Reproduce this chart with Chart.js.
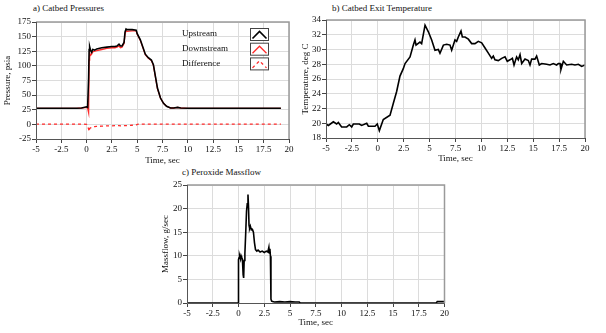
<!DOCTYPE html>
<html>
<head>
<meta charset="utf-8">
<script src="https://cdn.jsdelivr.net/npm/chart.js@4.4.1/dist/chart.umd.min.js"></script>
<style>
  body { margin: 0; background: #fff; width: 606px; height: 333px; overflow: hidden; position: relative; }
  canvas { position: absolute; }
  .ttl { position: absolute; font: 9px "Liberation Serif", serif; color: #111; white-space: nowrap; }
</style>
</head>
<body>
<div class="ttl" style="left:33px;top:3px">a) Catbed Pressures</div>
<div class="ttl" style="left:332px;top:3px">b) Catbed Exit Temperature</div>
<div class="ttl" style="left:182px;top:167px">c) Peroxide Massflow</div>
<canvas id="chartA" width="300" height="170" style="left:0;top:0"></canvas>
<canvas id="chartB" width="306" height="170" style="left:300px;top:0"></canvas>
<canvas id="chartC" width="300" height="168" style="left:150px;top:165px"></canvas>
<script>
// --- a) pressures, psia ---
const pressTime = [-5, -1, -0.5, 0, 0.1, 0.2, 0.25, 0.3, 0.4, 0.5, 0.6, 0.8, 1.0, 1.5, 2.0, 2.5, 2.8, 3.0, 3.2, 3.35, 3.5, 3.7, 3.8, 3.9, 4.0, 4.5, 4.9, 5.0, 5.3, 5.6, 5.8, 6.1, 6.4, 6.6, 6.8, 7.0, 7.3, 7.6, 7.9, 8.3, 8.6, 9.0, 9.3, 10, 19.2];
const upstream = [27.5, 27.5, 28, 30, 29, 80, 128, 133, 126, 123, 128, 127, 129, 131, 132, 133, 133, 134, 137, 134, 134, 140, 158, 163, 162, 162, 161, 155, 145, 130, 120, 114, 110, 102, 82, 62, 45, 36, 31, 28, 28, 29, 28, 27.5, 27.5];
const downstream = [27.5, 27.5, 28, 29, 28, 20, 110, 122, 118, 120, 124, 125, 126, 128, 130, 131, 131, 132, 134, 131, 132, 138, 155, 160, 159, 160, 160, 154, 144, 129, 119, 113, 109, 101, 81, 61, 45, 36, 31, 28, 28, 29, 28, 27.5, 27.5];
const difference = [0.5, 0.5, 0.5, 0, -3, -8, -12, -7, -6, -5, -4, -4, -3.5, -3, -2.5, -2.5, -2, -2, -2, -2.5, -2, -2, -2, -2, -2, -1.5, -1, 0, 0.5, 0.5, 0.5, 0.5, 0.5, 0.5, 0.5, 0.5, 0.5, 0.5, 0.5, 0.5, 0.5, 0.5, 0.5, 0.5, 0.5];
const pressLabels = ['Upstream', 'Downstream', 'Difference'];

// --- b) exit temperature, deg C ---
const tempTime = [-5, -4.77, -4.29, -3.97, -3.81, -3.49, -3.0, -2.75, -2.52, -2.36, -1.78, -1.56, -1.07, -0.91, -0.27, -0.05, 0.15, 0.53, 1.18, 1.5, 1.82, 2.14, 2.46, 2.63, 3.11, 3.43, 3.59, 3.69, 4.07, 4.23, 4.56, 4.88, 5.2, 5.52, 5.84, 6.0, 6.33, 6.65, 6.97, 7.13, 7.45, 7.61, 7.77, 8.03, 8.16, 8.42, 8.74, 9.06, 9.38, 9.7, 10.03, 10.35, 10.67, 10.99, 11.15, 11.31, 11.63, 11.96, 12.28, 12.5, 12.76, 12.99, 13.15, 13.4, 13.56, 13.73, 13.89, 14.21, 14.53, 14.69, 14.85, 15.17, 15.33, 15.59, 15.82, 16.3, 16.62, 16.94, 17.26, 17.43, 17.59, 17.68, 17.91, 18.23, 18.71, 19.03, 19.36, 19.68, 20];
const tempVals = [19.9, 19.7, 20.2, 19.9, 20.1, 19.5, 19.5, 19.8, 19.5, 19.9, 19.9, 19.7, 20.0, 19.6, 19.6, 19.9, 19.0, 20.5, 21.1, 22.7, 24.3, 26.4, 27.4, 28.1, 29.0, 30.6, 31.3, 30.6, 31.0, 30.8, 33.3, 32.4, 31.3, 29.9, 30.0, 29.5, 30.6, 30.7, 30.6, 29.9, 31.3, 31.1, 31.7, 32.5, 31.7, 31.7, 31.4, 30.8, 30.8, 31.1, 30.9, 30.2, 29.5, 28.8, 29.1, 28.6, 28.5, 28.8, 29.0, 28.4, 28.6, 28.8, 27.9, 29.0, 28.6, 29.3, 28.1, 28.7, 28.5, 27.9, 28.7, 28.7, 29.1, 27.9, 28.1, 28.0, 27.9, 28.1, 27.9, 28.1, 28.1, 27.3, 28.4, 27.9, 28.0, 27.9, 28.0, 27.7, 27.9];

// --- c) peroxide massflow, g/sec ---
const flowTime = [-5, -0.02, 0.0, 0.05, 0.1, 0.2, 0.25, 0.3, 0.38, 0.45, 0.5, 0.55, 0.62, 0.7, 0.78, 0.85, 0.92, 0.97, 1.02, 1.08, 1.15, 1.25, 1.35, 1.45, 1.55, 1.65, 1.78, 1.9, 2.1, 2.3, 2.5, 2.7, 2.85, 2.95, 3.0, 3.05, 3.1, 3.15, 3.22, 3.3, 3.5, 4.0, 4.5, 5.0, 5.5, 5.9, 6.0, 19.2, 19.3, 20];
const flowVals = [0, 0, 9.2, 9.6, 10.1, 9.3, 10.0, 9.7, 9.3, 6.0, 5.3, 9.0, 10.5, 14.8, 19.5, 21.0, 23.0, 20.5, 16.5, 15.8, 16.3, 15.5, 15.6, 15.0, 12.8, 11.3, 11.0, 11.2, 10.8, 11.0, 10.7, 11.0, 10.8, 11.8, 10.6, 11.5, 9.9, 0.8, 0.4, 0.3, 0.2, 0.3, 0.2, 0.3, 0.2, 0.2, 0, 0, 0.3, 0.3];

const FONT = { family: '"Liberation Serif", serif', size: 9 };
const INK = '#111';
const RED = '#ff2a2a';

const pts = (xs, ys) => xs.map((x, i) => ({ x, y: ys[i] }));

// grey frame round the plot area
const framePlugin = {
  id: 'frame',
  afterDraw(chart) {
    const { ctx, chartArea: a } = chart;
    ctx.save();
    ctx.strokeStyle = '#9a9a9a';
    ctx.lineWidth = 1.5;
    ctx.beginPath();
    ctx.moveTo(a.left, a.top); ctx.lineTo(a.right, a.top); ctx.lineTo(a.right, a.bottom);
    ctx.stroke();
    ctx.strokeStyle = '#555';
    ctx.lineWidth = 1;
    ctx.beginPath();
    ctx.moveTo(a.left + 0.5, a.top); ctx.lineTo(a.left + 0.5, a.bottom + 0.5); ctx.lineTo(a.right, a.bottom + 0.5);
    ctx.stroke();
    ctx.restore();
  }
};

// legend boxes with a little chevron, as in the original
const boxLegend = {
  id: 'boxLegend',
  afterDraw(chart) {
    if (chart.canvas.id !== 'chartA') return;
    const ctx = chart.ctx;
    ctx.save();
    ctx.font = '9px "Liberation Serif", serif';
    ctx.textBaseline = 'middle';
    chart.data.datasets.forEach((ds, i) => {
      const ty = 34 + i * 14.7;
      ctx.fillStyle = INK;
      ctx.fillText(ds.label, 182, ty);
      const bx = 250.5, by = ty - 5.5;
      ctx.fillStyle = '#fff';
      ctx.fillRect(bx, by, 18, 12);
      ctx.strokeStyle = '#444';
      ctx.lineWidth = 1;
      ctx.setLineDash([]);
      ctx.strokeRect(bx, by, 18, 12);
      ctx.strokeStyle = ds.borderColor;
      ctx.lineWidth = ds.borderWidth;
      ctx.setLineDash(ds.borderDash || []);
      ctx.beginPath();
      ctx.moveTo(bx + 2, by + 10); ctx.lineTo(bx + 9, by + 3); ctx.lineTo(bx + 16, by + 10);
      ctx.stroke();
    });
    ctx.restore();
  }
};

function axes(opt) {
  return {
    x: {
      type: 'linear', min: -5, max: 20,
      afterFit: s => { s.height = opt.xh; },
      ticks: { stepSize: 2.5, font: FONT, color: INK, padding: 1, maxRotation: 0, autoSkip: false },
      grid: { color: '#dcdcdc', tickColor: '#444', tickLength: 4 },
      border: { display: false },
      title: { display: true, text: 'Time, sec', font: FONT, color: INK, padding: { top: 0, bottom: opt.xpad } }
    },
    y: {
      type: 'linear', min: opt.ymin, max: opt.ymax,
      afterFit: s => { s.width = opt.yw; },
      ticks: { stepSize: opt.step, font: FONT, color: INK, padding: 1, autoSkip: false },
      grid: { color: '#dcdcdc', tickColor: '#444', tickLength: 4 },
      border: { display: false },
      title: { display: true, text: opt.ytitle, font: FONT, color: INK, padding: { top: opt.ypad, bottom: 0 } }
    }
  };
}

function baseOptions(pad, scales) {
  return {
    responsive: false,
    animation: false,
    devicePixelRatio: 1,
    layout: { padding: pad },
    elements: { point: { radius: 0 }, line: { tension: 0 } },
    plugins: { legend: { display: false }, tooltip: { enabled: false } },
    scales
  };
}

new Chart(document.getElementById('chartA'), {
  type: 'line',
  data: {
    datasets: [
      { label: pressLabels[0], data: pts(pressTime, upstream), borderColor: '#000', borderWidth: 1.6 },
      { label: pressLabels[1], data: pts(pressTime, downstream), borderColor: RED, borderWidth: 1.3 },
      { label: pressLabels[2], data: pts(pressTime, difference), borderColor: RED, borderWidth: 1.3, borderDash: [3, 3] }
    ]
  },
  options: baseOptions({ top: 22, right: 11, left: 0, bottom: 0 },
    axes({ xh: 31, xpad: 4, yw: 36, ymin: -25, ymax: 175, step: 25, ytitle: 'Pressure, psia', ypad: 2 })),
  plugins: [framePlugin, boxLegend]
});

new Chart(document.getElementById('chartB'), {
  type: 'line',
  data: {
    datasets: [
      { label: 'Temperature', data: pts(tempTime, tempVals), borderColor: '#000', borderWidth: 1.6 }
    ]
  },
  options: baseOptions({ top: 20, right: 21, left: 0, bottom: 0 },
    axes({ xh: 32, xpad: 6, yw: 26, ymin: 18, ymax: 34, step: 2, ytitle: 'Temperature, deg C', ypad: 0 })),
  plugins: [framePlugin]
});

new Chart(document.getElementById('chartC'), {
  type: 'line',
  data: {
    datasets: [
      { label: 'Massflow', data: pts(flowTime, flowVals), borderColor: '#000', borderWidth: 1.6 }
    ]
  },
  options: baseOptions({ top: 20, right: 4, left: 0, bottom: 0 },
    axes({ xh: 30, xpad: 5, yw: 37, ymin: 0, ymax: 25, step: 5, ytitle: 'Massflow, g/sec', ypad: 10 })),
  plugins: [framePlugin]
});
</script>
</body>
</html>
